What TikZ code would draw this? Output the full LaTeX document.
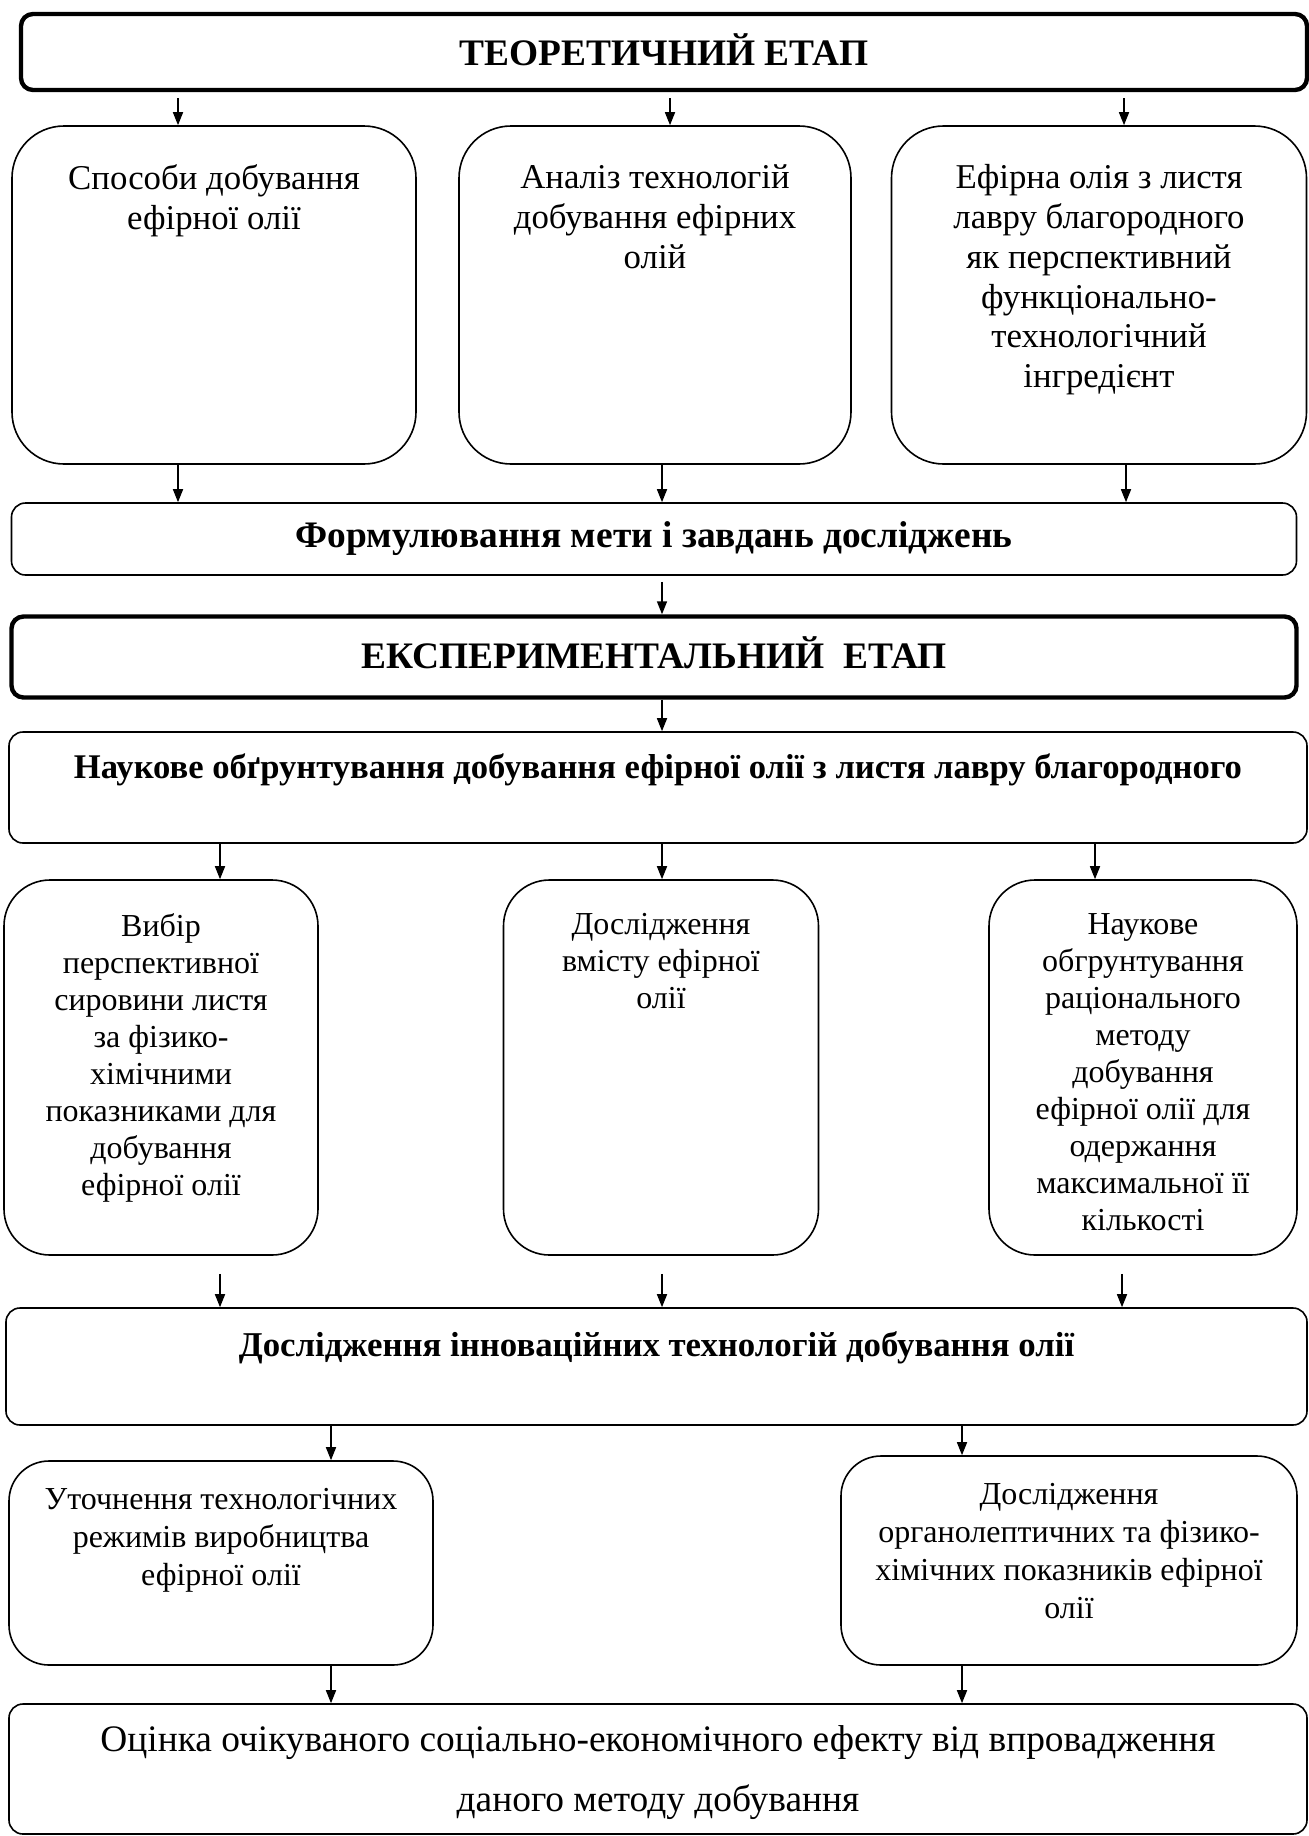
\documentclass[tikz,border=0pt]{standalone}
\usepackage{fontspec}
\setmainfont{Liberation Serif}
\usetikzlibrary{positioning,arrows.meta}
\tikzset{
  box/.style={draw, line width=0.8pt, rounded corners=#1, inner sep=0pt},
  stage/.style={draw, line width=2.2pt, rounded corners=6pt, inner sep=0pt},
  lbl/.style={align=center, inner sep=0pt, font=\fontsize{17.4}{19.9}\selectfont},
  head/.style={align=center, inner sep=0pt, font=\fontsize{18.7}{21}\selectfont\bfseries},
  arr/.style={-{Triangle[length=6.5pt,width=5pt]}, line width=0.8pt}
}
\begin{document}
\begin{tikzpicture}[x=1pt,y=-1pt]
\useasboundingbox (0,0) rectangle (654.5,918);
% theoretical stage
\node[stage, minimum width=643pt, minimum height=38pt] (teor) at (332,26) {};
\node[head] (teortxt) at ([yshift=1pt]teor) {ТЕОРЕТИЧНИЙ ЕТАП};
\node[box=26pt, minimum width=202pt, minimum height=169pt] (sposoby) at (107,147.5) {};
\node[box=26pt, minimum width=196pt, minimum height=169pt] (analiz) at (327.5,147.5) {};
\node[box=26pt, minimum width=207.5pt, minimum height=169pt] (oliya) at (549.5,147.5) {};
\node[lbl, below=19.5pt of sposoby.north] (sposobytxt) {Способи добування\\ефірної олії};
\node[lbl, below=19.5pt of analiz.north] (analiztxt) {Аналіз технологій\\добування ефірних\\олій};
\node[lbl, below=19.5pt of oliya.north] (oliyatxt) {Ефірна олія з листя\\лавру благородного\\як перспективний\\функціонально-\\технологічний\\інгредієнт};
\node[box=7pt, minimum width=642.5pt, minimum height=36pt] (meta) at (327,269.5) {};
\node[head] (metatxt) at (meta) {Формулювання мети і завдань досліджень};
% experimental stage
\node[stage, minimum width=642.5pt, minimum height=40.5pt] (eksp) at (327,328.5) {};
\node[head] (eksptxt) at ([yshift=2pt]eksp) {ЕКСПЕРИМЕНТАЛЬНИЙ\ \ ЕТАП};
\node[box=7pt, minimum width=649pt, minimum height=55.5pt] (nauk) at (329,393.75) {};
\node[head, font=\fontsize{17.3}{19}\selectfont\bfseries, below=11pt of nauk.north] (nauktxt) {Наукове обґрунтування добування ефірної олії з листя лавру благородного};
\node[box=23pt, minimum width=157pt, minimum height=187.5pt] (vybir) at (80.5,533.75) {};
\node[box=23pt, minimum width=157.5pt, minimum height=187.5pt] (vmist) at (330.5,533.75) {};
\node[box=23pt, minimum width=154pt, minimum height=187.5pt] (metod) at (571.5,533.75) {};
\node[lbl, font=\fontsize{16}{18.5}\selectfont, below=17pt of vybir.north] (vybirtxt) {Вибір\\перспективної\\сировини листя\\за фізико-\\хімічними\\показниками для\\добування\\ефірної олії};
\node[lbl, font=\fontsize{16}{18.5}\selectfont, below=17pt of vmist.north] (vmisttxt) {Дослідження\\вмісту ефірної\\олії};
\node[lbl, font=\fontsize{16}{18.5}\selectfont, below=17pt of metod.north] (metodtxt) {Наукове\\обгрунтування\\раціонального\\методу\\добування\\ефірної олії для\\одержання\\максимальної її\\кількості};
\node[box=7pt, minimum width=650.5pt, minimum height=58.5pt] (innov) at (328.25,683.25) {};
\node[head, font=\fontsize{17.4}{19}\selectfont\bfseries, below=12pt of innov.north] (innovtxt) {Дослідження інноваційних технологій добування олії};
\node[box=20pt, minimum width=212pt, minimum height=102pt] (rezhym) at (110.5,781.5) {};
\node[box=20pt, minimum width=228pt, minimum height=104.5pt] (orhan) at (534.5,780.25) {};
\node[lbl, font=\fontsize{16}{18.9}\selectfont, below=14pt of rezhym.north] (rezhymtxt) {Уточнення технологічних\\режимів виробництва\\ефірної олії};
\node[lbl, font=\fontsize{16}{18.9}\selectfont, below=14pt of orhan.north] (orhantxt) {Дослідження\\органолептичних та фізико-\\хімічних показників ефірної\\олії};
\node[box=7pt, minimum width=649pt, minimum height=65pt] (otsinka) at (329,884.5) {};
\node[lbl, font=\fontsize{18.7}{30}\selectfont, below=11pt of otsinka.north] (otsinkatxt) {Оцінка очікуваного соціально-економічного ефекту від впровадження\\даного методу добування};
% connectors
\foreach \dx/\n in {-243/sposoby,3/analiz,230/oliya}
  \draw[arr] ([xshift=\dx pt,yshift=-3pt]teor.south) -- ([xshift=\dx pt]teor.south |- \n.north);
\foreach \n/\dx in {sposoby/-18,analiz/3.5,oliya/13.5}
  \draw[arr] ([xshift=\dx pt]\n.south) -- ([xshift=\dx pt]\n.south |- meta.north);
\draw[arr] ([xshift=4pt,yshift=-3pt]meta.south) -- ([xshift=4pt]meta.south |- eksp.north);
\draw[arr] ([xshift=4pt]eksp.south) -- ([xshift=4pt]eksp.south |- nauk.north);
\foreach \n/\dx in {vybir/29.5,vmist/0.5,metod/-24}
  \draw[arr] ([xshift=\dx pt]\n.north |- nauk.south) -- ([xshift=\dx pt]\n.north);
\foreach \n/\dx in {vybir/29.5,vmist/0.5,metod/-10.5}
  \draw[arr] ([xshift=\dx pt,yshift=-9pt]\n.south) -- ([xshift=\dx pt]\n.south |- innov.north);
\foreach \n/\dx in {rezhym/55,orhan/-53.5}
  \draw[arr] ([xshift=\dx pt]\n.north |- innov.south) -- ([xshift=\dx pt]\n.north);
\foreach \n/\dx in {rezhym/55,orhan/-53.5}
  \draw[arr] ([xshift=\dx pt]\n.south) -- ([xshift=\dx pt]\n.south |- otsinka.north);
\end{tikzpicture}
\end{document}
